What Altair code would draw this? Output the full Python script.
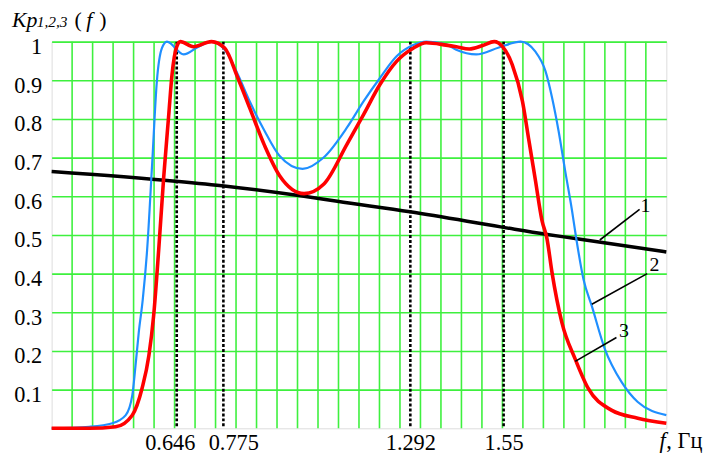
import altair as alt
import pandas as pd

# ---- data ----
f_black = [0.300, 0.642, 0.783, 0.998, 1.090, 1.291, 1.542, 1.666, 1.748, 2.000]
v_black = [0.664, 0.639, 0.626, 0.600, 0.587, 0.560, 0.521, 0.502, 0.491, 0.456]

f_blue = [0.300, 0.404, 0.468, 0.505, 0.523, 0.532, 0.541, 0.552, 0.564, 0.578,
          0.591, 0.605, 0.619, 0.665, 0.706, 0.742, 0.779, 0.815, 0.848, 0.889,
          0.930, 0.994, 1.053, 1.117, 1.163, 1.208, 1.254, 1.300, 1.336, 1.391,
          1.419, 1.474, 1.537, 1.597, 1.638, 1.666, 1.684, 1.702, 1.720, 1.739,
          1.750, 1.771, 1.794, 1.830, 1.876, 1.921, 2.000]
v_blue = [0.000, 0.004, 0.013, 0.034, 0.085, 0.162, 0.248, 0.333, 0.460, 0.684,
          0.897, 0.983, 1.000, 0.967, 0.987, 1.000, 0.979, 0.915, 0.845, 0.769,
          0.705, 0.671, 0.701, 0.778, 0.846, 0.906, 0.962, 0.991, 1.000, 0.993,
          0.979, 0.967, 0.985, 1.000, 0.974, 0.923, 0.855, 0.769, 0.667, 0.564,
          0.496, 0.385, 0.316, 0.205, 0.120, 0.068, 0.034]

f_red = [0.300, 0.404, 0.477, 0.523, 0.550, 0.569, 0.582, 0.596, 0.610, 0.624,
         0.633, 0.646, 0.656, 0.692, 0.742, 0.779, 0.815, 0.848, 0.889, 0.930,
         0.998, 1.053, 1.117, 1.163, 1.208, 1.254, 1.300, 1.336, 1.391, 1.419,
         1.455, 1.492, 1.524, 1.547, 1.574, 1.602, 1.620, 1.638, 1.656, 1.670,
         1.684, 1.711, 1.748, 1.784, 1.848, 1.921, 2.000]
v_red = [0.000, 0.000, 0.004, 0.034, 0.103, 0.188, 0.290, 0.460, 0.650, 0.812,
         0.915, 0.987, 1.000, 0.987, 1.000, 0.983, 0.906, 0.828, 0.731, 0.654,
         0.607, 0.632, 0.735, 0.812, 0.889, 0.949, 0.983, 0.997, 0.991, 0.987,
         0.981, 0.990, 1.000, 0.987, 0.940, 0.846, 0.744, 0.641, 0.538, 0.490,
         0.402, 0.274, 0.179, 0.103, 0.047, 0.026, 0.013]

marker_f = [0.646, 0.775, 1.292, 1.55]
y_ticks = [0.1, 0.2, 0.3, 0.4, 0.5, 0.6, 0.7, 0.8, 0.9, 1.0]
x_grid = [round(0.3 + k * 1.7 / 30, 5) for k in range(1, 30)]

curve_names = ["1", "2", "3"]
lead_f1 = [1.816, 1.794, 1.748]
lead_v1 = [0.487, 0.321, 0.173]
lead_f2 = [1.926, 1.947, 1.862]
lead_v2 = [0.566, 0.400, 0.235]
name_f = [1.942, 1.967, 1.883]
name_v = [0.574, 0.421, 0.252]

FONT = "Liberation Serif, Times New Roman, DejaVu Serif, serif"
GREEN = "#3ef03e"

xs = alt.Scale(domain=[0.3, 2.0], nice=False, zero=False)
ys = alt.Scale(domain=[0, 1], nice=False)

df_grid = pd.DataFrame({"g": x_grid})
df_mark = pd.DataFrame({"f": marker_f})
df_black = pd.DataFrame({"f": f_black, "v": v_black})
df_blue = pd.DataFrame({"f": f_blue, "v": v_blue})
df_red = pd.DataFrame({"f": f_red, "v": v_red})
df_lead = pd.DataFrame({"f1": lead_f1, "v1": lead_v1, "f2": lead_f2, "v2": lead_v2})
df_names = pd.DataFrame({"n": curve_names, "f": name_f, "v": name_v})

grid = alt.Chart(df_grid).mark_rule(color=GREEN, strokeWidth=1.6).encode(
    x=alt.X("g:Q", scale=xs,
            axis=alt.Axis(values=marker_f, title=None, grid=False, ticks=False,
                          domain=False, labelFont=FONT, labelFontSize=22.5,
                          labelColor="black", labelPadding=3,
                          labelOffset={"condition": [
                              {"test": "datum.value < 0.7", "value": -7},
                              {"test": "datum.value < 0.8", "value": 10}],
                              "value": 0},
                          labelExpr="format(datum.value, '.4~f')")),
    y=alt.value(0), y2=alt.value(390)
)

yaxis_layer = alt.Chart(df_black).mark_line(opacity=0).encode(
    x=alt.X("f:Q", scale=xs),
    y=alt.Y("v:Q", scale=ys,
            axis=alt.Axis(values=y_ticks, title=None, grid=True, gridColor=GREEN,
                          gridWidth=1.6, gridOpacity=1, ticks=False, domain=False,
                          labelFont=FONT, labelFontSize=22.5, labelColor="black",
                          labelPadding=10, labelBaseline="middle", labelOffset=5,
                          labelExpr="datum.value == 1 ? '1' : format(datum.value, '.1f')"))
)

dotted = alt.Chart(df_mark).mark_rule(color="black", strokeWidth=2.6,
                                      strokeDash=[3, 2]).encode(
    x=alt.X("f:Q", scale=xs), y=alt.value(0), y2=alt.value(390)
)

black = alt.Chart(df_black).mark_line(color="black", strokeWidth=3.5,
                                      interpolate="monotone").encode(
    x=alt.X("f:Q", scale=xs), y=alt.Y("v:Q", scale=ys))
blue = alt.Chart(df_blue).mark_line(color="#1f8fff", strokeWidth=2.2,
                                    interpolate="monotone").encode(
    x=alt.X("f:Q", scale=xs), y=alt.Y("v:Q", scale=ys))
red = alt.Chart(df_red).mark_line(color="#ff0000", strokeWidth=3.6,
                                  interpolate="monotone").encode(
    x=alt.X("f:Q", scale=xs), y=alt.Y("v:Q", scale=ys))

leads = alt.Chart(df_lead).mark_rule(color="black", strokeWidth=1.6).encode(
    x=alt.X("f1:Q", scale=xs), y=alt.Y("v1:Q", scale=ys),
    x2="f2:Q", y2="v2:Q")
names = alt.Chart(df_names).mark_text(font=FONT, fontSize=20, color="black",
                                      align="center", baseline="middle").encode(
    x=alt.X("f:Q", scale=xs), y=alt.Y("v:Q", scale=ys), text="n:N")

def label(txt, x, y, size=21, style="normal", align="left", baseline="alphabetic"):
    return alt.Chart(pd.DataFrame({"t": [txt]})).mark_text(
        font=FONT, fontSize=size, fontStyle=style, color="black",
        align=align, baseline=baseline).encode(
        text="t:N", x=alt.value(x), y=alt.value(y))

title_parts = [
    label("Kp", -40, -15, 22, "italic"),
    label("1,2,3", -15, -15, 15.5, "italic"),
    label("(", 23, -15, 22),
    label("f", 35, -15, 22, "italic"),
    label(")", 48, -15, 22),
    label("f", 613, 410, 22.5, "italic"),
    label(", Гц", 620, 410, 22.5),
]

chart = alt.layer(grid, yaxis_layer, dotted, black, blue, red, leads, names,
                  *title_parts).properties(
    width=620, height=390,
    autosize=alt.AutoSizeParams(type="none"),
    padding={"left": 44, "top": 32, "right": 40, "bottom": 26},
).configure_view(stroke="black", strokeWidth=1.5).configure(background="white")

chart.save("out.html", embed_options={"renderer": "svg", "actions": False})
